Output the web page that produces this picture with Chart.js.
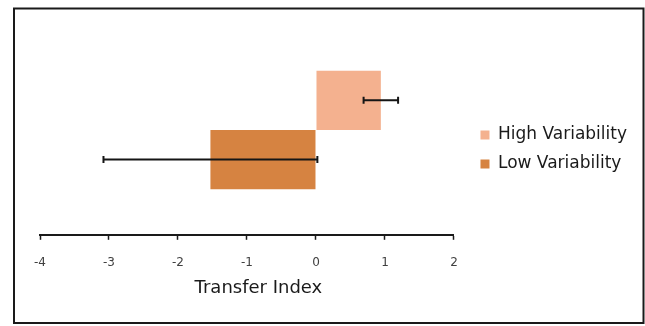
<!DOCTYPE html>
<html>
<head>
<meta charset="utf-8">
<title>Transfer Index</title>
<script src="https://cdn.jsdelivr.net/npm/chart.js@4/dist/chart.umd.min.js"></script>
<style>
  html, body { margin: 0; padding: 0; background: #ffffff; }
  #wrap { position: relative; width: 645px; height: 326px; }
  canvas { display: block; }
</style>
</head>
<body>
<div id="wrap"><canvas id="chart" width="645" height="326"></canvas></div>
<script>
// Values
const categories = ['Transfer Index'];
const seriesNames = ['High Variability', 'Low Variability'];
const meanValues = [0.94, -1.53];
const errorValues = [0.25, 1.55];
const seriesColors = ['#F4B18F', '#D68341'];
const xTickValues = [-4, -3, -2, -1, 0, 1, 2];

Chart.defaults.font.family = "'DejaVu Sans', Verdana, sans-serif";

const datasets = seriesNames.map((name, i) => ({
  label: name,
  data: [meanValues[i]],
  errors: [errorValues[i]],
  backgroundColor: seriesColors[i],
  borderWidth: 0,
  categoryPercentage: 0.565,
  barPercentage: 1.0
}));

// Horizontal error bars with end caps, positioned through the x scale
const errorBars = {
  id: 'errorBars',
  afterDatasetsDraw(chart) {
    const ctx = chart.ctx;
    const xs = chart.scales.x;
    chart.data.datasets.forEach((ds, di) => {
      const meta = chart.getDatasetMeta(di);
      meta.data.forEach((bar, i) => {
        const v = ds.data[i];
        const e = ds.errors[i];
        const x0 = xs.getPixelForValue(v - e);
        const x1 = xs.getPixelForValue(v + e);
        const y = bar.y;
        ctx.save();
        ctx.strokeStyle = '#151515';
        ctx.lineWidth = 2;
        ctx.beginPath();
        ctx.moveTo(x0, y); ctx.lineTo(x1, y);
        ctx.moveTo(x0, y - 3.5); ctx.lineTo(x0, y + 3.5);
        ctx.moveTo(x1, y - 3.5); ctx.lineTo(x1, y + 3.5);
        ctx.stroke();
        ctx.restore();
      });
    });
  }
};

// White background and outer frame
const frame = {
  id: 'frame',
  beforeDraw(chart) {
    const ctx = chart.ctx;
    ctx.save();
    ctx.fillStyle = '#ffffff';
    ctx.fillRect(0, 0, chart.width, chart.height);
    ctx.restore();
  },
  afterDraw(chart) {
    const ctx = chart.ctx;
    ctx.save();
    ctx.strokeStyle = '#1a1a1a';
    ctx.lineWidth = 2;
    ctx.strokeRect(14, 8.5, 629.5, 314.5);
    ctx.restore();
  }
};

new Chart(document.getElementById('chart'), {
  type: 'bar',
  data: { labels: categories, datasets },
  plugins: [frame, errorBars],
  options: {
    indexAxis: 'y',
    responsive: false,
    animation: false,
    devicePixelRatio: 1,
    layout: { padding: { left: 40, right: 8, top: 0, bottom: 27 } },
    scales: {
      x: {
        type: 'linear',
        min: -4,
        max: 2,
        afterBuildTicks: (scale) => { scale.ticks = xTickValues.map(v => ({ value: v })); },
        ticks: { color: '#404040', font: { size: 12 }, padding: 15.6, maxRotation: 0 },
        grid: { display: true, drawOnChartArea: false, drawTicks: true, tickLength: 5, tickColor: '#1a1a1a', tickWidth: 1.5 },
        border: { display: true, color: '#1a1a1a', width: 2 },
        title: {
          display: true,
          text: '    Transfer Index',
          color: '#1a1a1a',
          font: { size: 18 },
          padding: { top: -8, bottom: 0 }
        }
      },
      y: {
        type: 'category',
        position: 'right',
        grid: { display: false },
        border: { display: false },
        ticks: { display: false },
        afterFit: (scale) => { scale.width = 14.5; }
      }
    },
    plugins: {
      title: {
        display: true,
        text: '',
        fullSize: false,
        font: { size: 10, lineHeight: 1 },
        padding: { top: 0, bottom: 15 }
      },
      legend: {
        display: true,
        position: 'right',
        align: 'center',
        fullSize: true,
        maxWidth: 240,
        labels: {
          boxWidth: 9,
          boxHeight: 9,
          padding: 12,
          color: '#1a1a1a',
          font: { size: 17 }
        }
      },
      tooltip: { enabled: false }
    }
  }
});
</script>
</body>
</html>
